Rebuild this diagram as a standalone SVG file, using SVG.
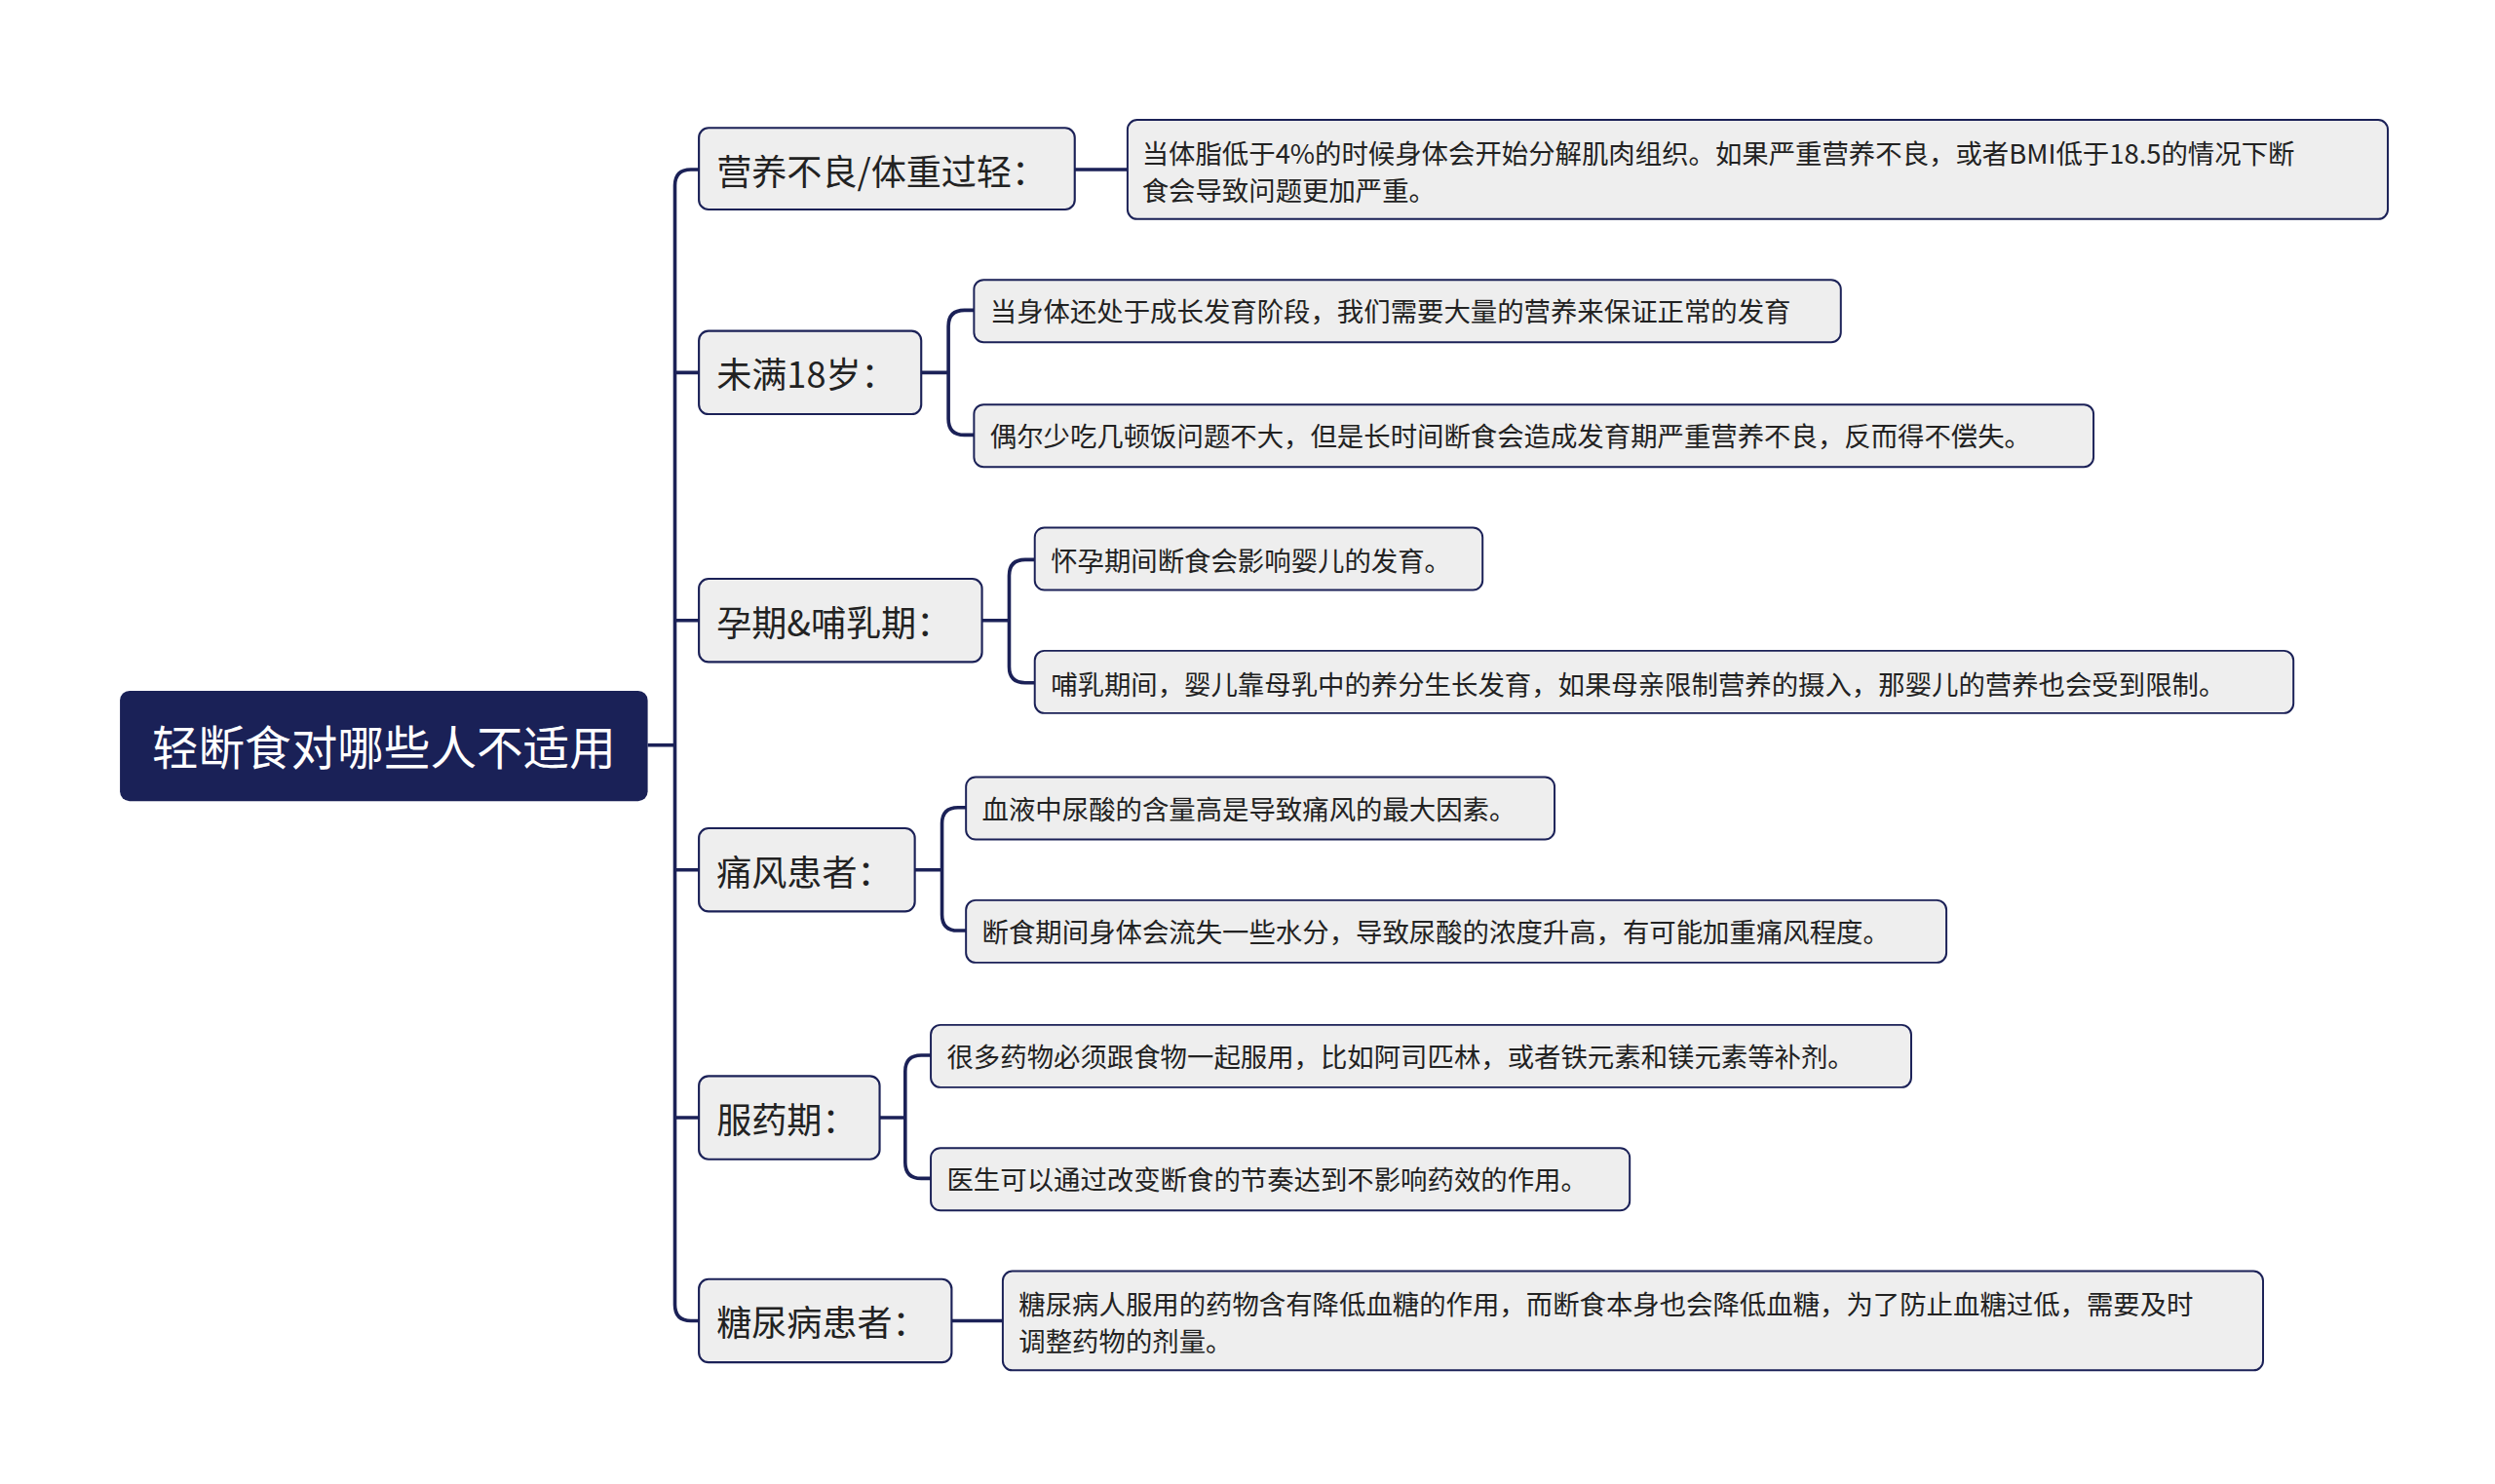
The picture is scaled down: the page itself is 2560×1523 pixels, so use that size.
<svg xmlns="http://www.w3.org/2000/svg" width="2560" height="1523" viewBox="0 0 2560 1523">
<style>
.b{fill:#eeeeee;stroke:#1b2157;stroke-width:1.3}
.l{fill:#eeeeee;stroke:#1b2157;stroke-width:1.2}
.c{fill:none;stroke:#1b2157;stroke-width:2.2}
text{font-family:"Noto Sans CJK SC","Noto Sans",sans-serif;fill:#222}
.bt{font-size:22px;dominant-baseline:central}
.lt{font-size:16.7px;dominant-baseline:central}
</style>
<rect width="2560" height="1523" fill="#ffffff"/>
<g transform="scale(1.641)">
<g id="connectors">
<path class="c" d="M405,466 H422"/>
<path class="c" d="M437,106 H432 Q422,106 422,116 V816 Q422,826 432,826 H437"/>
<path class="c" d="M422,233 H437 M422,388 H437 M422,544 H437 M422,699 H437"/>
<path class="c" d="M672,106 H705"/>
<path class="c" d="M576,233 H593 M609,194 H603 Q593,194 593,204 V262 Q593,272 603,272 H609"/>
<path class="c" d="M614,388 H631 M647,350 H641 Q631,350 631,360 V417 Q631,427 641,427 H647"/>
<path class="c" d="M572,544 H589 M604,505 H599 Q589,505 589,515 V572 Q589,582 599,582 H604"/>
<path class="c" d="M550,699 H566 M582,660 H576 Q566,660 566,670 V727 Q566,737 576,737 H582"/>
<path class="c" d="M595,826 H627"/>
</g>
<g id="root"><rect x="75" y="432" width="330" height="69" rx="6" fill="#1a2157"/><text x="240" y="466" font-size="29" text-anchor="middle" dominant-baseline="central" style="fill:#ffffff">轻断食对哪些人不适用</text></g>
<g id="b1"><rect class="b" x="437" y="80" width="235" height="51" rx="6"/><text class="bt" x="448" y="106">营养不良/体重过轻：</text></g>
<g id="b2"><rect class="b" x="437" y="207" width="139" height="52" rx="6"/><text class="bt" x="448" y="233">未满18岁：</text></g>
<g id="b3"><rect class="b" x="437" y="362" width="177" height="52" rx="6"/><text class="bt" x="448" y="388">孕期&amp;哺乳期：</text></g>
<g id="b4"><rect class="b" x="437" y="518" width="135" height="52" rx="6"/><text class="bt" x="448" y="544">痛风患者：</text></g>
<g id="b5"><rect class="b" x="437" y="673" width="113" height="52" rx="6"/><text class="bt" x="448" y="699">服药期：</text></g>
<g id="b6"><rect class="b" x="437" y="800" width="158" height="52" rx="6"/><text class="bt" x="448" y="826">糖尿病患者：</text></g>
<g id="l1"><rect class="l" x="705" y="75" width="788" height="62" rx="6"/><text class="lt" x="714" y="95">当体脂低于4%的时候身体会开始分解肌肉组织。如果严重营养不良，或者BMI低于18.5的情况下断</text><text class="lt" x="714" y="118">食会导致问题更加严重。</text></g>
<g id="l2a"><rect class="l" x="609" y="175" width="542" height="39" rx="6"/><text class="lt" x="619" y="194">当身体还处于成长发育阶段，我们需要大量的营养来保证正常的发育</text></g>
<g id="l2b"><rect class="l" x="609" y="253" width="700" height="39" rx="6"/><text class="lt" x="619" y="272">偶尔少吃几顿饭问题不大，但是长时间断食会造成发育期严重营养不良，反而得不偿失。</text></g>
<g id="l3a"><rect class="l" x="647" y="330" width="280" height="39" rx="6"/><text class="lt" x="657" y="350">怀孕期间断食会影响婴儿的发育。</text></g>
<g id="l3b"><rect class="l" x="647" y="407" width="787" height="39" rx="6"/><text class="lt" x="657" y="427">哺乳期间，婴儿靠母乳中的养分生长发育，如果母亲限制营养的摄入，那婴儿的营养也会受到限制。</text></g>
<g id="l4a"><rect class="l" x="604" y="486" width="368" height="39" rx="6"/><text class="lt" x="614" y="505">血液中尿酸的含量高是导致痛风的最大因素。</text></g>
<g id="l4b"><rect class="l" x="604" y="563" width="613" height="39" rx="6"/><text class="lt" x="614" y="582">断食期间身体会流失一些水分，导致尿酸的浓度升高，有可能加重痛风程度。</text></g>
<g id="l5a"><rect class="l" x="582" y="641" width="613" height="39" rx="6"/><text class="lt" x="592" y="660">很多药物必须跟食物一起服用，比如阿司匹林，或者铁元素和镁元素等补剂。</text></g>
<g id="l5b"><rect class="l" x="582" y="718" width="437" height="39" rx="6"/><text class="lt" x="592" y="737">医生可以通过改变断食的节奏达到不影响药效的作用。</text></g>
<g id="l6"><rect class="l" x="627" y="795" width="788" height="62" rx="6"/><text class="lt" x="637" y="815">糖尿病人服用的药物含有降低血糖的作用，而断食本身也会降低血糖，为了防止血糖过低，需要及时</text><text class="lt" x="637" y="838">调整药物的剂量。</text></g>
</g>
</svg>
